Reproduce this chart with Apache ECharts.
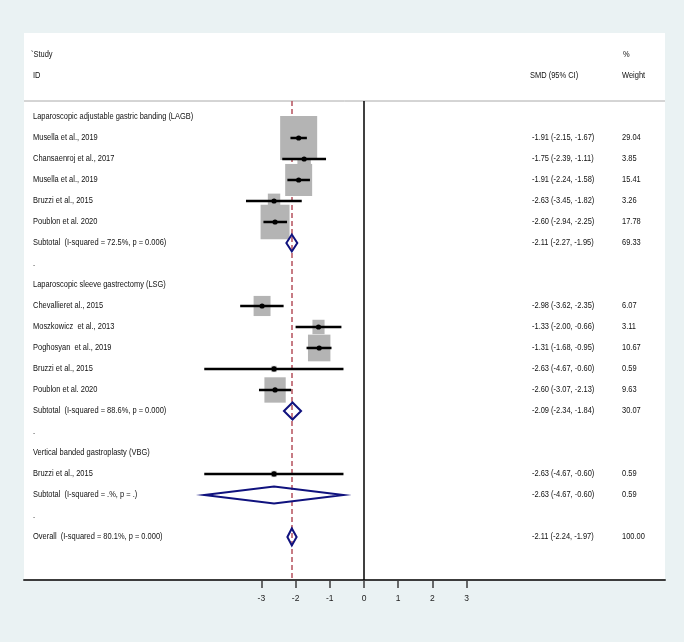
<!DOCTYPE html>
<html>
<head>
<meta charset="utf-8">
<script src="https://cdn.jsdelivr.net/npm/echarts@6/dist/echarts.min.js"></script>
<style>
  html, body { margin: 0; padding: 0; background: #eaf2f3; }
  #chart { width: 684px; height: 642px; }
</style>
</head>
<body>
<div id="chart"></div>
<script>
// groups and studies
const groupNames = [
  'Laparoscopic adjustable gastric banding (LAGB)',
  'Laparoscopic sleeve gastrectomy (LSG)',
  'Vertical banded gastroplasty (VBG)'
];
const studyNames = [
  'Musella et al., 2019',
  'Chansaenroj et al., 2017',
  'Musella et al., 2019',
  'Bruzzi et al., 2015',
  'Poublon et al. 2020',
  'Chevallieret al., 2015',
  'Moszkowicz  et al., 2013',
  'Poghosyan  et al., 2019',
  'Bruzzi et al., 2015',
  'Poublon et al. 2020',
  'Bruzzi et al., 2015'
];
const studyGroup = [0, 0, 0, 0, 0, 1, 1, 1, 1, 1, 2];
const studySmd = [-1.91, -1.75, -1.91, -2.63, -2.60, -2.98, -1.33, -1.31, -2.63, -2.60, -2.63];
const studyLower = [-2.15, -2.39, -2.24, -3.45, -2.94, -3.62, -2.00, -1.68, -4.67, -3.07, -4.67];
const studyUpper = [-1.67, -1.11, -1.58, -1.82, -2.25, -2.35, -0.66, -0.95, -0.60, -2.13, -0.60];
const studyWeight = [29.04, 3.85, 15.41, 3.26, 17.78, 6.07, 3.11, 10.67, 0.59, 9.63, 0.59];

// subtotals
const subtotalLabels = [
  'Subtotal  (I-squared = 72.5%, p = 0.006)',
  'Subtotal  (I-squared = 88.6%, p = 0.000)',
  'Subtotal  (I-squared = .%, p = .)'
];
const subtotalSmd = [-2.11, -2.09, -2.63];
const subtotalLower = [-2.27, -2.34, -4.67];
const subtotalUpper = [-1.95, -1.84, -0.60];
const subtotalWeight = [69.33, 30.07, 0.59];

// overall
const overallLabel = 'Overall  (I-squared = 80.1%, p = 0.000)';
const overallSmd = -2.11;
const overallLower = -2.24;
const overallUpper = -1.97;
const overallWeight = 100.00;

const tickValues = [-3, -2, -1, 0, 1, 2, 3];

const FONT = "'Liberation Sans', Arial, sans-serif";
const NAVY = '#10127e';
const NARROW = 0.83; // the original typeface is a condensed one

// lay out the rows
const rows = [];
let r = 0;
groupNames.forEach((g, gi) => {
  rows.push({ row: r++, label: g });
  studyGroup.forEach((sg, i) => {
    if (sg === gi) rows.push({ row: r++, kind: 'study', i: i, label: studyNames[i] });
  });
  rows.push({ row: r++, kind: 'sub', i: gi, label: subtotalLabels[gi] });
  rows.push({ row: r++, label: '.' });
});
rows.push({ row: r++, kind: 'overall', label: overallLabel });

const fmt = (e, l, u) => e.toFixed(2) + ' (' + l.toFixed(2) + ', ' + u.toFixed(2) + ')';

const boxData = [], ciData = [], diamondData = [], textRows = [];
rows.forEach(o => {
  let est = '', wt = '';
  if (o.kind === 'study') {
    const i = o.i;
    boxData.push([studySmd[i], o.row, studyWeight[i]]);
    ciData.push([studyLower[i], studyUpper[i], studySmd[i], o.row]);
    est = fmt(studySmd[i], studyLower[i], studyUpper[i]);
    wt = studyWeight[i].toFixed(2);
  } else if (o.kind === 'sub') {
    const i = o.i;
    diamondData.push([subtotalLower[i], subtotalUpper[i], subtotalSmd[i], o.row]);
    est = fmt(subtotalSmd[i], subtotalLower[i], subtotalUpper[i]);
    wt = subtotalWeight[i].toFixed(2);
  } else if (o.kind === 'overall') {
    diamondData.push([overallLower, overallUpper, overallSmd, o.row]);
    est = fmt(overallSmd, overallLower, overallUpper);
    wt = overallWeight.toFixed(2);
  }
  textRows.push({ row: o.row, label: o.label, est: est, wt: wt });
});

// axis extents so that 0 sits at x=364 and one unit is ~34.2px
const xMin = -9.94, xMax = 8.80;
const yMin = -0.762, yMax = 22.05;

const headText = (txt, x, y) => ({
  type: 'text', x: x, y: y, scaleX: NARROW, z: 5,
  style: { text: txt, font: '9px ' + FONT, fill: '#111', verticalAlign: 'middle' }
});

const chart = echarts.init(document.getElementById('chart'), null, { renderer: 'canvas' });

const option = {
  backgroundColor: '#eaf2f3',
  animation: false,
  textStyle: { fontFamily: FONT },
  grid: { left: 24, right: 19, top: 101, bottom: 62, containLabel: false },
  graphic: [
    { type: 'rect', z: -10, shape: { x: 24, y: 33, width: 641, height: 547 }, style: { fill: '#ffffff' } },
    { type: 'line', z: 1, shape: { x1: 24, y1: 101, x2: 665, y2: 101 }, style: { stroke: '#aaaaaa', lineWidth: 1 } },
    headText('`Study', 31, 55),
    headText('ID', 33, 76),
    headText('SMD (95% CI)', 530, 76),
    headText('%', 623, 55),
    headText('Weight', 622, 76)
  ],
  xAxis: {
    type: 'value',
    min: xMin,
    max: xMax,
    axisLine: { show: true, onZero: false, lineStyle: { color: '#3c3c3c', width: 2 } },
    axisTick: { show: true, customValues: tickValues, length: 8, lineStyle: { color: '#3c3c3c', width: 1.5 } },
    axisLabel: { customValues: tickValues, fontSize: 8.5, color: '#222', margin: 14, fontFamily: FONT },
    splitLine: { show: false }
  },
  yAxis: { type: 'value', inverse: true, min: yMin, max: yMax, show: false },
  series: [
    {
      // reference lines: overall estimate (dashed) and no effect (solid), kept under the boxes
      type: 'line',
      z: 1,
      data: [],
      markLine: {
        z: 1,
        silent: true,
        symbol: 'none',
        label: { show: false },
        data: [
          { xAxis: overallSmd, lineStyle: { color: '#b5505c', width: 1.5, type: [5, 3] } },
          { xAxis: 0, lineStyle: { color: '#000', width: 1.5, type: 'solid' } }
        ]
      }
    },
    {
      // weight boxes
      type: 'custom',
      z: 2,
      data: boxData,
      renderItem: (params, api) => {
        const c = api.coord([api.value(0), api.value(1)]);
        const s = Math.sqrt(api.value(2));
        const w = s * 6.87, h = s * 8.17;
        return {
          type: 'rect',
          shape: { x: c[0] - w / 2, y: c[1] - h / 2, width: w, height: h },
          style: { fill: '#b4b4b4' }
        };
      }
    },
    {
      // pooled diamonds
      type: 'custom',
      z: 3,
      data: diamondData,
      renderItem: (params, api) => {
        const y = api.value(3);
        const l = api.coord([api.value(0), y]);
        const u = api.coord([api.value(1), y]);
        const m = api.coord([api.value(2), y]);
        const hh = 8.5;
        return {
          type: 'polygon',
          shape: { points: [[l[0], m[1]], [m[0], m[1] - hh], [u[0], m[1]], [m[0], m[1] + hh]] },
          style: { fill: 'none', stroke: NAVY, lineWidth: 2 }
        };
      }
    },
    {
      // confidence intervals and point estimates
      type: 'custom',
      z: 4,
      data: ciData,
      renderItem: (params, api) => {
        const y = api.value(3);
        const l = api.coord([api.value(0), y]);
        const u = api.coord([api.value(1), y]);
        const m = api.coord([api.value(2), y]);
        return {
          type: 'group',
          children: [
            { type: 'line', shape: { x1: l[0], y1: l[1], x2: u[0], y2: u[1] }, style: { stroke: '#000', lineWidth: 2.5 } },
            { type: 'circle', shape: { cx: m[0], cy: m[1], r: 2.6 }, style: { fill: '#000' } }
          ]
        };
      }
    },
    {
      // row texts
      type: 'custom',
      z: 5,
      data: textRows.map(t => [0, t.row]),
      renderItem: (params, api) => {
        const t = textRows[params.dataIndex];
        const y = api.coord([0, api.value(1)])[1];
        const st = (txt, x) => ({
          type: 'text',
          x: x, y: y, scaleX: NARROW,
          style: { text: txt, font: '9px ' + FONT, fill: '#111', verticalAlign: 'middle', align: 'left' }
        });
        return { type: 'group', children: [st(t.label, 33), st(t.est, 532), st(t.wt, 622)] };
      }
    }
  ]
};

chart.setOption(option);
</script>
</body>
</html>
